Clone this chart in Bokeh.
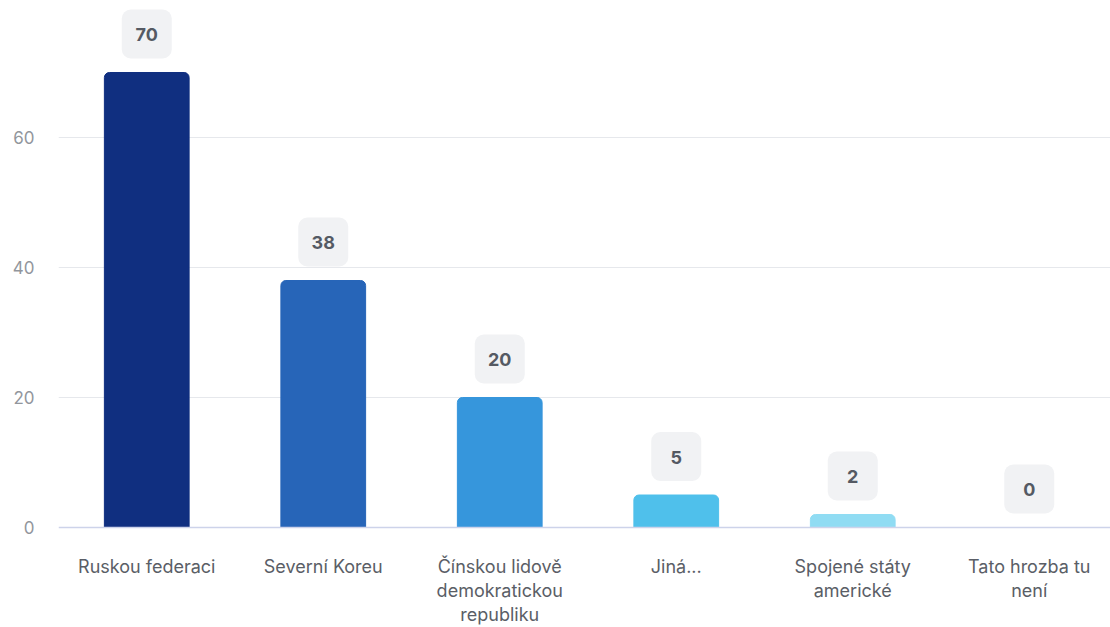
from bokeh.plotting import figure
from bokeh.models import Range1d, Span, FixedTicker, ColumnDataSource
from bokeh.core.properties import value
from bokeh.embed import file_html
from bokeh.resources import INLINE

categories = ["Ruskou federaci", "Severní Koreu", "Čínskou lidově\ndemokratickou\nrepubliku",
              "Jiná...", "Spojené státy\namerické", "Tato hrozba tu\nnení"]
values = [70, 38, 20, 5, 2, 0]
colors = ["#102f80", "#2765b8", "#3696dc", "#4fc0eb", "#90dcf3", "#b8e8f8"]
y_ticks = [0, 20, 40, 60]

W, H = 1110, 627
LEFT = 58
BASE = 527
PX_PER_UNIT_Y = 6.5
PX_PER_CAT = 176.5
frame_w = W - LEFT

y_top = BASE / PX_PER_UNIT_Y
y_bot = -(H - BASE) / PX_PER_UNIT_Y
x_end = -0.5 + frame_w / PX_PER_CAT

p = figure(width=W, height=H, output_backend="svg", toolbar_location=None,
           x_range=Range1d(-0.5, x_end), y_range=Range1d(y_bot, y_top),
           min_border_left=LEFT, min_border_right=0, min_border_top=0, min_border_bottom=0)
p.outline_line_color = None
p.xaxis.visible = False
p.xgrid.visible = False
p.yaxis.ticker = FixedTicker(ticks=y_ticks)
p.yaxis.axis_line_color = None
p.yaxis.major_tick_line_color = None
p.yaxis.minor_tick_line_color = None
p.yaxis.major_tick_out = 0
p.yaxis.major_tick_in = 0
p.yaxis.major_label_standoff = 24
p.yaxis.major_label_text_font = "Inter"
p.yaxis.major_label_text_font_size = "17px"
p.yaxis.major_label_text_color = "#92969c"
p.ygrid.ticker = FixedTicker(ticks=[t for t in y_ticks if t != 0])
p.ygrid.grid_line_color = "#e6e8ec"
p.ygrid.grid_line_width = 1

p.add_layout(Span(location=0, dimension="width", line_color="#cdd3ea", line_width=1.5))

xs = list(range(len(categories)))
src = ColumnDataSource(dict(x=xs, top=values, color=colors, label=[str(v) for v in values],
                            cat=categories))
bars = [i for i, v in enumerate(values) if v > 0]
bsrc = ColumnDataSource(dict(x=[xs[i] for i in bars], top=[values[i] for i in bars],
                             color=[colors[i] for i in bars]))
p.vbar(x="x", top="top", bottom=0, width=0.48, color="color", source=bsrc,
       border_radius=(5, 5, 0, 0))

box_w = 50 / PX_PER_CAT
box_h = 49 / PX_PER_UNIT_Y
gap = 14 / PX_PER_UNIT_Y
p.block(x=[x - box_w / 2 for x in xs], y=[v + gap for v in values], width=box_w, height=box_h,
        fill_color="#f1f2f4", line_color=None, border_radius=9)
p.text(x="x", y="top", text="label", source=src, y_offset=-38,
       text_align="center", text_baseline="middle", text_font=value("Inter"),
       text_font_size="18px", text_font_style="bold", text_color="#555a63")

p.text(x="x", y=0, text="cat", source=src, y_offset=28,
       text_align="center", text_baseline="top", text_font=value("Inter"),
       text_font_size="18px", text_color="#5a5e66", text_line_height=1.15)

open("out.html", "w").write(file_html(p, INLINE))
